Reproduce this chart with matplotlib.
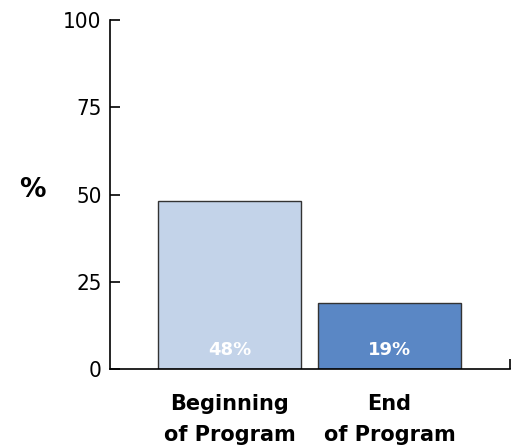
import matplotlib
matplotlib.use("Agg")
import matplotlib.pyplot as plt
from matplotlib.font_manager import fontManager

categories = ["Beginning\nof Program", "End\nof Program"]
values = [48, 19]
value_labels = ["48%", "19%"]
colors = ["#c3d3e9", "#5a87c5"]
yticks = [0, 25, 50, 75, 100]

names = {f.name for f in fontManager.ttflist}
narrow = None
for cand in ["Liberation Sans Narrow", "DejaVu Sans Condensed"]:
    if cand in names:
        narrow = cand
        break
condensed_dv = any(f.name == "DejaVu Sans" and f.stretch in ("condensed", 600 - 100, "semi-condensed")
                   for f in fontManager.ttflist)

fig = plt.figure(figsize=(5.16, 4.45), dpi=100)
ax = fig.add_axes([110/516, 1-369/445, 400/516, (369-20)/445])

x = list(range(len(categories)))
ax.bar(x, values, width=0.894, color=colors, edgecolor="#333333", linewidth=1.0, zorder=2)
for xi, lab in zip(x, value_labels):
    ax.text(xi, 3.0, lab, ha="center", va="bottom", color="white",
            fontsize=13, fontweight="bold", family="DejaVu Sans", zorder=3)

ax.set_xlim(-0.747, 1.753)
ax.set_ylim(0, 100)
ax.set_yticks(yticks)
if narrow:
    tick_kw = dict(family=narrow, fontsize=17)
elif condensed_dv:
    tick_kw = dict(family="DejaVu Sans", fontstretch="condensed", fontsize=16)
else:
    tick_kw = dict(family="Liberation Sans", fontsize=15)
ax.set_yticklabels([str(v) for v in yticks], **tick_kw)
ax.tick_params(axis="y", direction="in", length=7, width=1.2, pad=6)
ax.set_xticks([1.753])
ax.set_xticklabels([""])
ax.tick_params(axis="x", direction="in", length=7, width=1.2)
for s in ["top", "right"]:
    ax.spines[s].set_visible(False)
for s in ["left", "bottom"]:
    ax.spines[s].set_linewidth(1.2)

for xi, cat in zip(x, categories):
    ax.text(xi, -7.2, cat, ha="center", va="top", fontsize=15, fontweight="heavy",
            family="DejaVu Sans", linespacing=1.65, clip_on=False)

fig.text(32.5/516, 1-190/445, "%", ha="center", va="center", fontsize=19, fontweight="heavy")

fig.savefig("out.png", dpi=100)
